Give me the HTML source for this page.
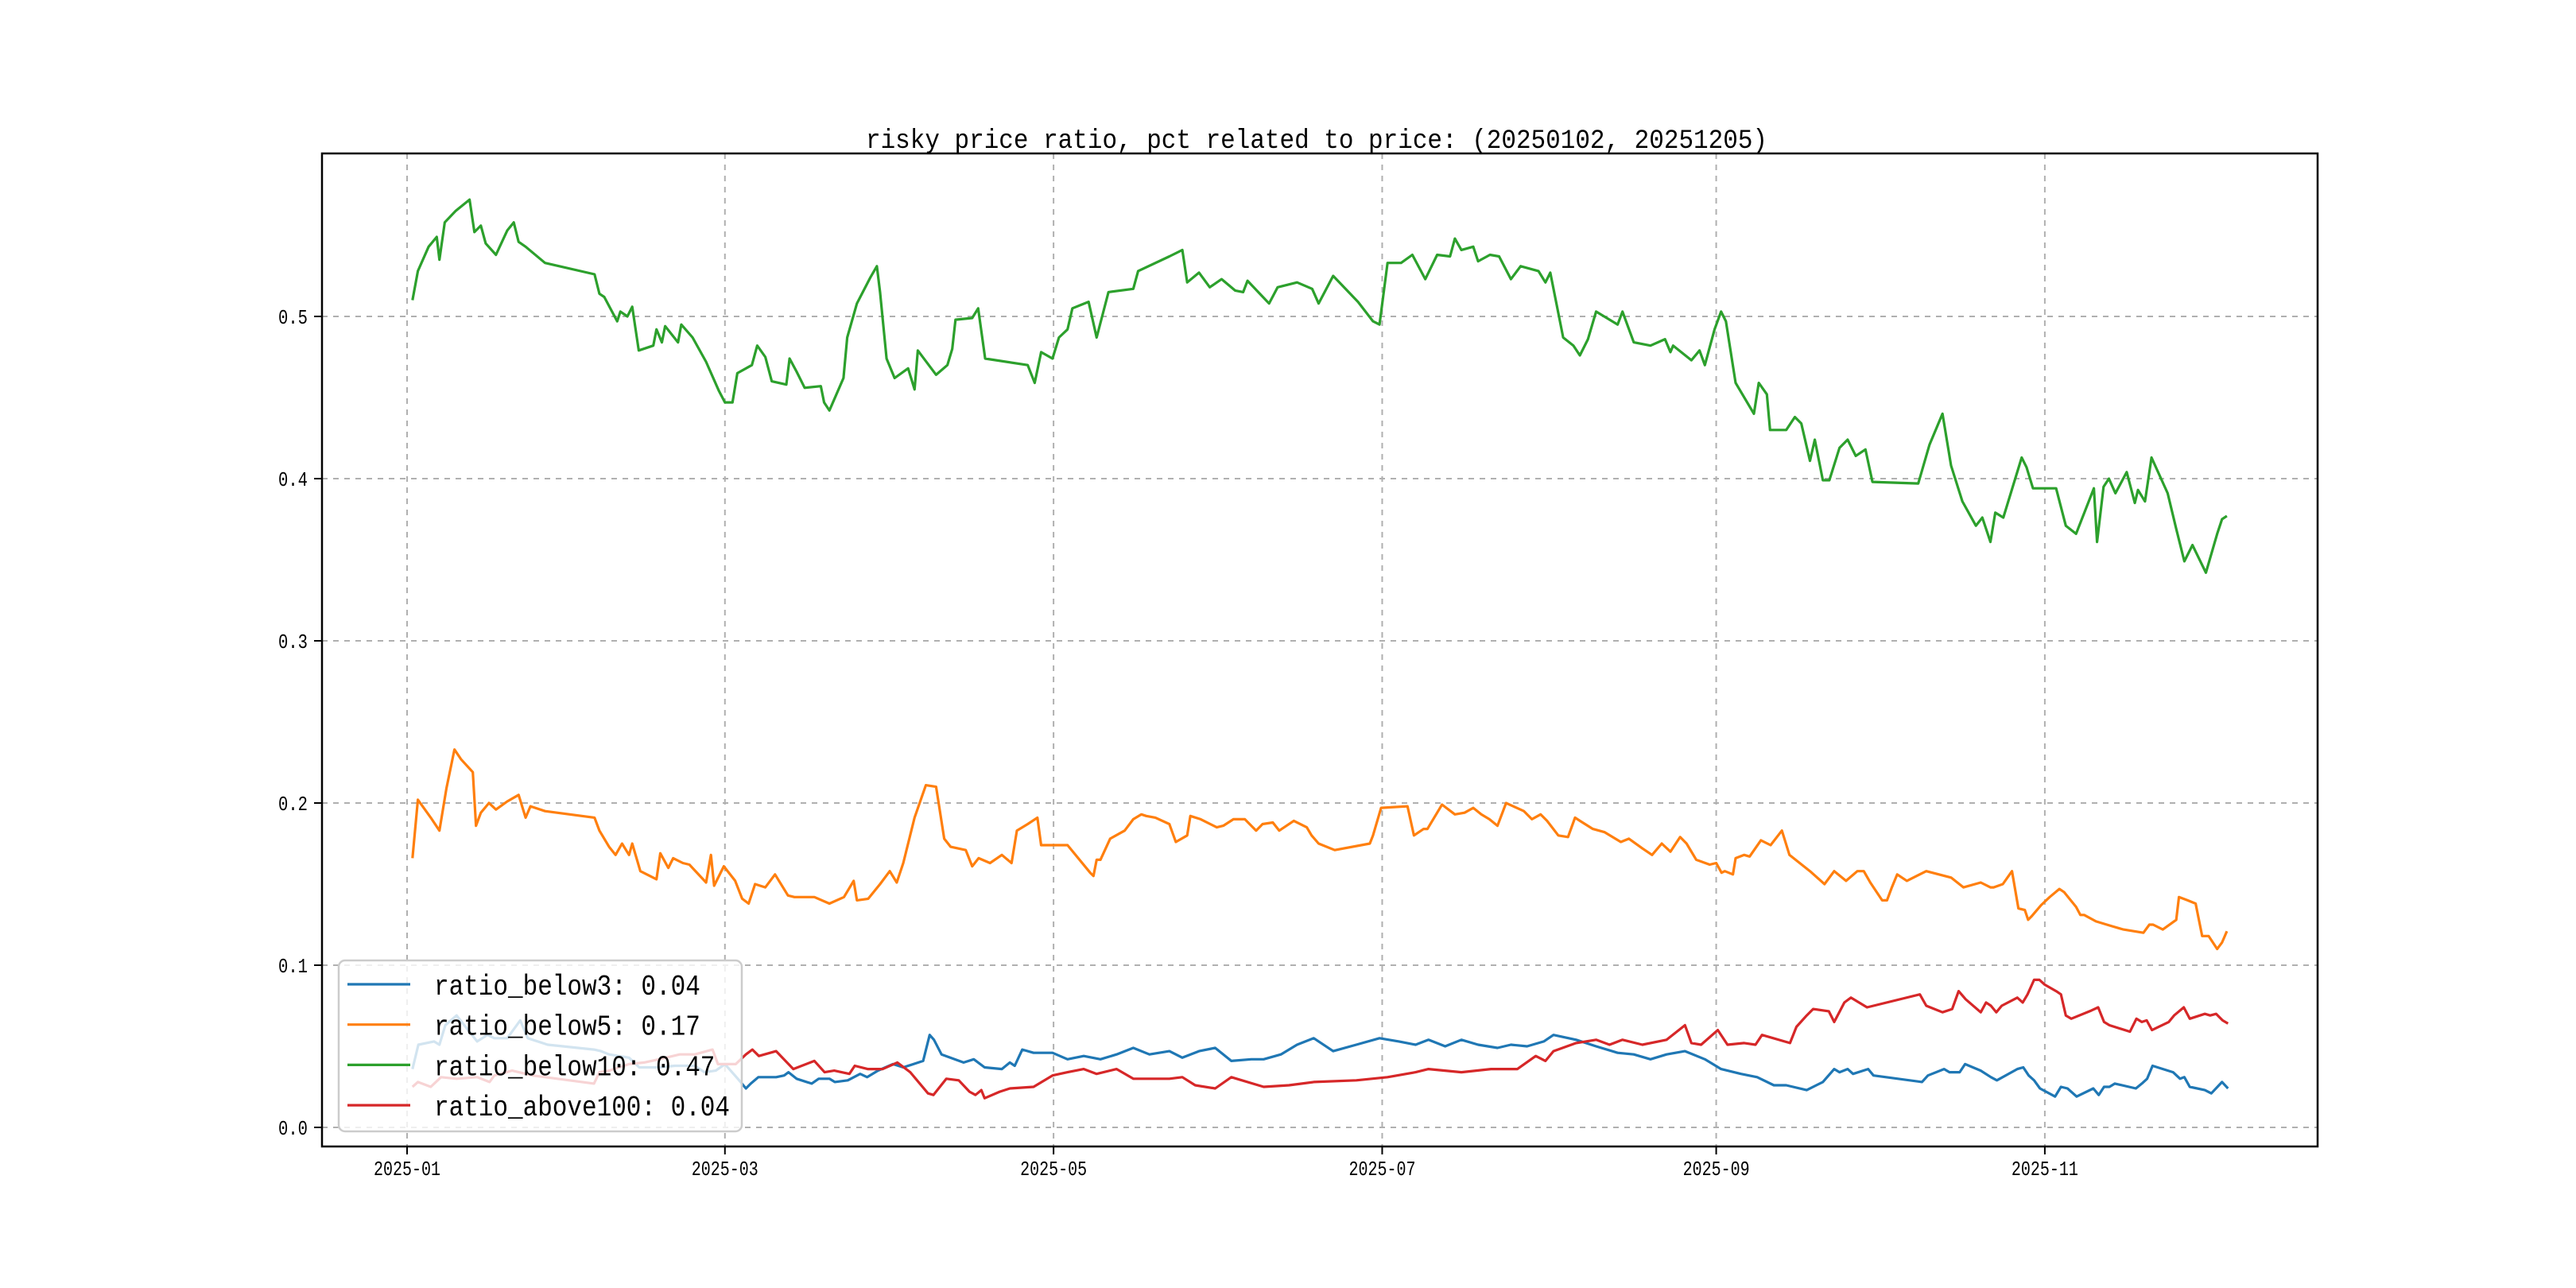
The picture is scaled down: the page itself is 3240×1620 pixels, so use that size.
<!DOCTYPE html>
<html><head><meta charset="utf-8"><style>
html,body{margin:0;padding:0;background:#fff;}
svg{display:block;}
text{font-family:"Liberation Mono","Noto Sans CJK SC",monospace;fill:#000;}
</style></head><body>
<svg id="chart" width="3240" height="1620" viewBox="0 0 3240 1620" xmlns="http://www.w3.org/2000/svg">
<rect x="0" y="0" width="3240" height="1620" fill="#fff"/>
<text x="1656" y="186" font-size="34" text-anchor="middle" textLength="1134" lengthAdjust="spacingAndGlyphs">risky price ratio, pct related to price: (20250102, 20251205)</text>
<g id="grid"></g>
<g id="series"></g>
<rect x="405" y="193" width="2510" height="1249" fill="none" stroke="#000" stroke-width="2.5"/>
<g id="ticks"></g>
<g id="legend"></g>
</svg>
<script>
// ---- data (days since 2025-01-01, values) ----
const xTickLabels = ["2025-01","2025-03","2025-05","2025-07","2025-09","2025-11"];
const xTickDays = [0,59,120,181,243,304];
const yTickValues = [0,0.1,0.2,0.3,0.4,0.5];
const yTickLabels = ["0.0","0.1","0.2","0.3","0.4","0.5"];
const seriesNames = ["ratio_below3: 0.04","ratio_below5: 0.17","ratio_below10: 0.47","ratio_above100: 0.04"];

const below3Days = [1,2.1,5,6,7.1,9.2,13,14.9,16.2,18.6,21,22.4,26.1,34.7,36,37.5,41.2,43.1,46.8,49.7,53.4,55.2,57.3,59,61.4,62.9,63.8,65.2,68.5,70,70.8,72.3,75.1,76.4,78.4,79.4,81.8,84.1,85.4,87.4,90.2,92.1,95.8,97,97.8,99.2,103.3,105.2,107.2,110.4,111.9,112.8,114.2,116.3,119.8,122.6,125.6,128.7,131.7,134.8,137.8,141.5,143.9,147,150,153,156.7,159,162.2,165.2,168.3,171.9,176.2,180.5,184.1,187.2,189.6,192.7,195.7,198.8,202.4,204.9,207.9,211,212.8,217,220.7,224.7,227.7,230.8,233.8,237.2,240.9,243.9,247.6,250.6,253.7,256,259.8,262.8,264.9,265.9,267.4,268.4,271.2,272.2,281.2,282.3,285.3,286.3,288.2,289.2,292.1,294,295.1,298.9,300,301,302,303.1,305.9,307,308.2,309.9,313,314,315,316,317,320.9,322,323,324,327.8,329.1,329.9,330.9,333.7,334.9,336.9,338];
const below3Vals = [.036,.051,.053,.051,.063,.069,.053,.057,.055,.055,.066,.055,.051,.048,.047,.045,.043,.037,.037,.038,.038,.034,.035,.039,.030,.024,.027,.031,.031,.032,.034,.030,.027,.030,.030,.028,.029,.033,.031,.035,.039,.037,.041,.057,.054,.045,.040,.042,.037,.036,.040,.038,.048,.046,.046,.042,.044,.042,.045,.049,.045,.047,.043,.047,.049,.041,.042,.042,.045,.051,.055,.047,.051,.055,.053,.051,.054,.050,.054,.051,.049,.051,.050,.053,.057,.054,.050,.046,.045,.042,.045,.047,.042,.036,.033,.031,.026,.026,.023,.028,.036,.034,.036,.033,.036,.032,.028,.032,.036,.034,.034,.039,.035,.031,.029,.036,.037,.032,.029,.024,.019,.025,.024,.019,.024,.020,.025,.025,.027,.024,.027,.030,.038,.034,.030,.031,.025,.023,.021,.028,.024];

const below5Days = [1,2,4.4,6,7.3,8.8,10,12.2,12.8,13.7,15.2,16.5,18.6,20.7,22,22.9,25.6,34.8,35.7,37.5,38.7,39.9,41.2,41.8,43.3,46.3,47,48.5,49.4,51.2,52.4,55.5,56.4,57,58.8,60.9,62.2,63.4,64.6,66.5,68.3,70.7,71.9,75.6,78.4,81.1,82.9,83.5,85.6,87.8,89.6,90.9,92.1,94.2,96.3,98.2,99.7,100.9,103.7,104.9,106.1,108.2,110.4,112.2,113.2,115.2,117,117.7,122.6,126.8,127.4,128,128.7,130.5,133.2,134.8,136.3,137.2,138.9,141.5,142.7,144.8,145.4,147.3,150.3,151.5,153.4,155.5,157.6,158.8,160.7,161.9,164.6,167,167.9,169.2,172.2,178.7,179.3,180.8,185.7,186.9,188.7,189.4,192.1,193.7,194.5,196.3,197.9,199.4,200.9,202.4,204,207.3,208.8,210.4,211.6,213.7,215.5,216.8,217.7,220.1,222.3,225.3,226.8,229.3,231.1,232.9,234.5,236.3,237.5,239.3,241.8,243,244,244.6,246.1,246.6,248.2,249.2,251.3,253.1,255.2,256.6,260.4,263.1,264.9,267.1,269.2,270.4,271.6,273.8,274.7,275.6,276.6,278.4,282,286.6,288.9,292.1,293.9,294.5,296.2,297.9,299.1,300.3,300.9,301.5,303.3,304.9,306.7,307.6,309.8,310.6,311.3,313.5,316.5,318.6,322.3,323.4,324.1,325.9,328.4,328.9,330.5,332,333.2,334.4,336,336.9,337.8];
const below5Vals = [.166,.202,.191,.183,.209,.233,.227,.219,.186,.194,.200,.196,.201,.205,.191,.198,.195,.191,.183,.173,.168,.175,.168,.175,.158,.153,.169,.160,.166,.163,.162,.151,.168,.149,.161,.152,.141,.138,.150,.148,.156,.143,.142,.142,.138,.142,.152,.140,.141,.150,.158,.151,.163,.191,.211,.210,.178,.173,.171,.161,.166,.163,.168,.163,.183,.187,.191,.174,.174,.157,.155,.165,.165,.178,.183,.190,.193,.192,.191,.187,.176,.180,.192,.190,.185,.186,.190,.190,.183,.187,.188,.183,.189,.185,.180,.175,.171,.175,.180,.197,.198,.180,.184,.184,.199,.195,.193,.194,.197,.193,.190,.186,.200,.195,.190,.193,.189,.180,.179,.191,.189,.184,.182,.176,.178,.172,.168,.175,.170,.179,.175,.165,.162,.163,.157,.158,.156,.166,.168,.167,.177,.174,.183,.168,.158,.150,.158,.152,.158,.158,.151,.140,.140,.148,.156,.152,.158,.154,.148,.151,.148,.148,.150,.158,.135,.134,.128,.130,.137,.142,.147,.145,.136,.131,.131,.127,.124,.122,.120,.125,.125,.122,.128,.142,.140,.138,.118,.118,.110,.114,.121,.123,.119];

const below10Days = [1,2,4,5.5,6,7,9,11.6,12.5,13.7,14.6,16.5,18.6,19.8,20.7,22,25.6,34.8,35.7,36.6,39,39.6,40.9,41.8,43,45.7,46.3,47.3,47.9,50.3,50.9,53,55.5,57.9,59,60.4,61.3,64,65,66.5,67.7,70.4,71,72.3,73.8,76.8,77.4,78.4,81,81.7,83.5,86,87.2,87.8,89,90.5,93,94.2,94.8,98.2,100.3,101.2,101.8,104.9,106,107.3,115.2,116.5,117.7,119.8,121,122.6,123.5,126.5,128,130.2,134.8,135.7,141.5,143.9,144.8,147,149,151.2,153.7,155.2,156,160,161.6,165.2,168,169.2,171.9,176.5,179.3,180.5,182,184.5,186.6,189,191.2,193.6,194.5,195.7,197.9,198.8,201,202.7,204.9,206.7,210,211.3,212.2,214.6,216.5,217.7,219.2,220.7,224.7,225.6,227.7,230.8,233.5,234.5,235,238.4,239.9,240.9,242.7,243.9,244.8,246.6,250,250.9,252.4,253,256,257.6,258.8,260.4,261.3,262.8,264,265.9,267.4,268.9,270.7,272,280.5,282.6,285,286.6,288.7,291.2,292.4,293.9,294.8,296.3,299.7,300.6,301.8,306.1,307.9,309.8,313.1,313.7,314.9,315.9,317.1,319.2,320.7,321.3,322.6,323.8,326.8,328.4,329.9,331.4,333.9,336,336.9,337.8];
const below10Vals = [.510,.528,.543,.549,.535,.558,.565,.572,.552,.556,.545,.538,.553,.558,.546,.543,.533,.526,.514,.512,.497,.503,.500,.506,.479,.482,.492,.484,.494,.484,.495,.487,.472,.454,.447,.447,.465,.470,.482,.475,.460,.458,.474,.466,.456,.457,.447,.442,.462,.487,.508,.524,.531,.515,.474,.462,.468,.455,.479,.464,.470,.480,.498,.499,.505,.474,.470,.459,.478,.474,.487,.492,.505,.509,.487,.515,.517,.528,.537,.541,.521,.527,.518,.523,.516,.515,.522,.508,.518,.521,.517,.508,.525,.509,.497,.495,.533,.533,.538,.523,.538,.537,.548,.541,.543,.534,.538,.537,.523,.531,.528,.521,.527,.487,.482,.476,.486,.503,.495,.503,.484,.482,.486,.478,.482,.473,.479,.470,.492,.503,.497,.459,.440,.459,.452,.430,.430,.438,.434,.411,.424,.399,.399,.419,.424,.414,.418,.398,.397,.421,.440,.408,.386,.371,.376,.361,.379,.376,.413,.407,.394,.394,.371,.366,.394,.361,.395,.400,.391,.404,.385,.393,.386,.413,.391,.369,.349,.359,.342,.366,.375,.377];

const above100Days = [1,2,4.4,6.3,9.2,13,15.3,16.2,19.5,23.3,34.7,35.7,37.5,41.2,44,46.8,50.6,53.4,56.7,57.7,61,62.9,64.1,65.3,68.5,71.7,75.6,77.5,79.3,82.1,83.1,85.5,88.3,91,93.4,96.7,97.7,100.1,102.4,104.4,105.5,106.6,107.2,110,111.9,116.3,119.8,122.6,125.6,128,131.7,134.8,141.5,143.9,146.3,150,153,159,163.7,168.3,176.2,182,187.2,189.6,195.7,201.2,206.1,209.5,211.3,212.8,217,220.7,223.2,225.6,229.3,233.8,237.2,238.4,240.2,243.3,245.1,248.2,250.3,251.5,256.7,257.9,259.8,261,263.9,264.9,266.8,268,271,280.8,282,285,286.8,288,289.3,292.1,293.1,294,295,296,298.9,299.9,300.8,302,303,304,306.1,307,307.9,308.9,312.6,313.9,315,316,319.8,321,322,322.9,323.9,327,328,329.8,330.9,333.7,334.7,335.8,337,338];
const above100Vals = [.025,.028,.025,.031,.030,.031,.028,.032,.035,.032,.027,.034,.035,.039,.040,.042,.045,.045,.048,.039,.039,.045,.048,.044,.047,.036,.041,.034,.035,.033,.038,.036,.036,.040,.034,.021,.020,.030,.029,.022,.020,.023,.018,.022,.024,.025,.032,.034,.036,.033,.036,.030,.030,.031,.026,.024,.031,.025,.026,.028,.029,.031,.034,.036,.034,.036,.036,.044,.041,.047,.052,.054,.051,.054,.051,.054,.063,.052,.051,.060,.051,.052,.051,.057,.052,.062,.069,.073,.0716,.065,.077,.080,.074,.082,.075,.071,.073,.084,.079,.071,.077,.075,.071,.075,.080,.077,.082,.091,.091,.088,.084,.082,.069,.067,.072,.074,.065,.063,.059,.067,.065,.066,.060,.065,.069,.074,.067,.070,.069,.070,.066,.064];

// ---- axes ----
const X0 = 512, PX_PER_DAY = 6.776;
const Y0 = 1418, PX_PER_UNIT = 2040;
function xScale(d){ return X0 + d * PX_PER_DAY; }
function yScale(v){ return Y0 - v * PX_PER_UNIT; }
const NS = "http://www.w3.org/2000/svg";
function mk(tag, attrs, parent){
  const e = document.createElementNS(NS, tag);
  for (const k in attrs) e.setAttribute(k, attrs[k]);
  parent.appendChild(e);
  return e;
}
const grid = document.getElementById('grid');
const ticks = document.getElementById('ticks');
const series = document.getElementById('series');
const legend = document.getElementById('legend');

xTickDays.forEach((d, i) => {
  const x = xScale(d);
  const g = mk('line', {x1:x, x2:x, y1:193, y2:1442, stroke:'#b0b0b0', 'stroke-width':2, 'stroke-dasharray':'7,7'}, grid);
  
  
  const t = mk('line', {x1:x, x2:x, y1:1442, y2:1452, stroke:'#000', 'stroke-width':2}, ticks);
  
  
  const l = mk('text', {x:x, y:1478, 'font-size':26, 'text-anchor':'middle', textLength:84, lengthAdjust:'spacingAndGlyphs'}, ticks);
  l.textContent = xTickLabels[i];
  
  
});
yTickValues.forEach((v, i) => {
  const y = yScale(v);
  const g = mk('line', {x1:405, x2:2915, y1:y, y2:y, stroke:'#b0b0b0', 'stroke-width':2, 'stroke-dasharray':'7,7'}, grid);
  
  
  const t = mk('line', {x1:395, x2:405, y1:y, y2:y, stroke:'#000', 'stroke-width':2}, ticks);
  
  
  const l = mk('text', {x:387, y:y+9, 'font-size':26, 'text-anchor':'end', textLength:37, lengthAdjust:'spacingAndGlyphs'}, ticks);
  l.textContent = yTickLabels[i];
  
  
});

const allDays = [below3Days, below5Days, below10Days, above100Days];
const allVals = [below3Vals, below5Vals, below10Vals, above100Vals];
const colors = ['#1f77b4','#ff7f0e','#2ca02c','#d62728'];
const lineNames = ['line-ratio-below3','line-ratio-below5','line-ratio-below10','line-ratio-above100'];
allDays.forEach((days, s) => {
  const vals = allVals[s];
  const pts = days.map((d, i) => xScale(d).toFixed(1) + ',' + yScale(vals[i]).toFixed(1)).join(' ');
  const p = mk('polyline', {points:pts, fill:'none', stroke:colors[s], 'stroke-width':3.2, 'stroke-linejoin':'round'}, series);
  
  
});

const box = mk('rect', {x:426, y:1208, width:507, height:215, rx:8, fill:'#fff', 'fill-opacity':0.8, stroke:'#cccccc', 'stroke-width':2.5}, legend);


seriesNames.forEach((name, i) => {
  const y = 1238 + i * 50.7;
  const ln = mk('line', {x1:437, x2:516, y1:y, y2:y, stroke:colors[i], 'stroke-width':3.2}, legend);
  
  
  const tl = mk('text', {x:546, y:y+13, 'font-size':36, textLength: name.length * 18.6, lengthAdjust:'spacingAndGlyphs'}, legend);
  tl.textContent = name;
  
  
});
</script>
</body></html>
